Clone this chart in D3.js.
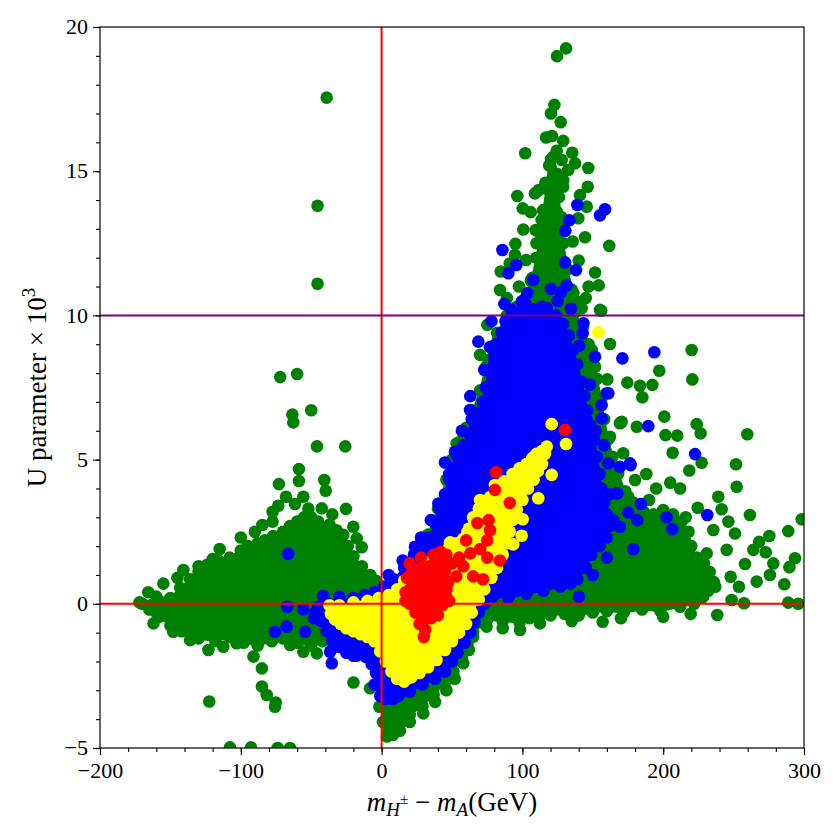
<!DOCTYPE html>
<html lang="en">
<head>
<meta charset="UTF-8">
<title>U parameter scatter</title>
<style>
  body { margin: 0; background: #fff; }
  text { font-family: "Liberation Serif", "DejaVu Serif", serif; }
</style>
</head>
<body>
<div id="chart"></div>
<script src="https://d3js.org/d3.v7.min.js"></script>
<script>
// axis ticks
const xTicks = [-200, -100, 0, 100, 200, 300];
const yTicks = [-5, 0, 5, 10, 15, 20];

// outlines of the densely packed parts of each sample [x, y];
// every vertex is drawn as a point too, so the edges stay bumpy
const greenWingCore = [[-170,0],[-160,0.25],[-150,0.2],[-143,0.55],[-136,0.85],[-130,1.1],[-124,1.35],[-116,1.5],[-108,1.6],[-100,1.85],[-95,2.0],[-88,2.1],[-83,2.2],[-77,2.35],[-70,2.5],[-65,2.7],[-60,2.85],[-55,3.0],[-50,3.0],[-45,2.85],[-37,2.75],[-32,2.55],[-28,2.35],[-24,2.0],[-20,1.65],[-14,1.3],[-8,1.0],[-4,0.8],[-1,0.6],[-2,-0.8],[-20,-1.0],[-35,-1.3],[-42,-1.3],[-50,-1.45],[-60,-1.35],[-70,-1.2],[-78,-1.3],[-88,-1.45],[-98,-1.35],[-108,-1.15],[-118,-1.3],[-130,-1.2],[-142,-0.95],[-150,-0.75],[-158,-0.45],[-165,-0.2]];
const greenMainCore = [[1,-4.1],[6,-4.25],[13,-4.15],[20,-3.85],[29,-3.55],[37,-3.15],[45,-2.75],[51,-2.35],[57,-1.85],[61,-1.4],[65,-0.95],[70,-0.65],[75,-0.55],[86,-0.6],[98,-0.65],[105,-0.5],[112,-0.45],[120,-0.4],[130,-0.35],[140,-0.4],[150,-0.3],[160,-0.25],[172,-0.3],[185,-0.2],[198,-0.25],[212,-0.1],[222,0.0],[227,0.2],[232,0.45],[236,0.75],[233,1.1],[229,1.4],[224,1.6],[220,2.0],[218,2.5],[213,2.85],[207,3.1],[200,3.25],[193,3.1],[186,3.2],[179,3.5],[173,3.9],[168,4.5],[164,5.1],[161,5.7],[158,6.4],[156,7.1],[153,7.8],[150,8.4],[147,9.0],[143,9.6],[137,10.1],[131,10.7],[127,11.5],[124,12.3],[120,12.6],[116,12.0],[111,11.2],[104,10.7],[96,10.3],[89,10.0],[82,9.4],[77,8.9],[74,8.2],[70,7.4],[65,6.7],[60,6.1],[55,5.6],[50,5.0],[46,4.3],[40,3.3],[33,2.4],[22,1.5],[10,0.7],[2,-1.0],[0,-3.0]];
const greenColumnCore = [[102,10.6],[107,11.3],[110,12.0],[113,12.8],[115,13.6],[117,14.4],[119,15.2],[122,15.5],[125,14.9],[126,14.1],[127,13.3],[129,12.5],[132,11.6],[135,10.9],[138,10.5]];
const blueCore = [[3,-3.3],[8,-3.3],[12,-3.2],[20,-3.05],[29,-2.8],[38,-2.6],[45,-2.35],[50,-2.0],[54,-1.7],[59,-1.35],[63,-1.0],[66,-0.65],[69,-0.3],[73,0.0],[79,0.25],[90,0.2],[103,0.35],[115,0.45],[127,0.6],[134,0.7],[139,0.85],[145,1.25],[149,1.7],[155,2.0],[160,2.3],[162,2.7],[160,3.1],[158,3.5],[156,4.0],[155,4.5],[153,5.1],[151,5.7],[148,6.2],[146,6.7],[144,7.2],[142,7.7],[139,8.3],[136,8.8],[133,9.3],[129,9.7],[124,10.0],[119,9.9],[114,10.3],[108,10.2],[102,10.4],[97,10.1],[92,10.2],[88,9.8],[85,9.4],[81,9.0],[77,8.9],[76,8.1],[74,7.5],[72,7.0],[68,6.6],[64,6.4],[62,5.9],[58,5.5],[54,5.1],[50,4.7],[48,4.3],[45,3.8],[41,3.3],[38,2.8],[34,2.3],[29,2.0],[23,1.7],[16,1.25],[9,0.85],[2,0.6],[-5,0.4],[-12,0.3],[-20,0.2],[-30,0.1],[-38,0.0],[-45,-0.1],[-47,-0.3],[-43,-0.6],[-39,-0.95],[-35,-1.3],[-30,-1.5],[-25,-1.7],[-18,-1.8],[-11,-1.85],[-7,-2.1],[-4,-2.4],[-2,-2.8],[0,-3.2]];
const yellowCore = [[-37,-0.05],[-30,-0.05],[-20,0.05],[-10,0.1],[-2,0.2],[5,0.3],[11,0.5],[16,0.8],[22,1.05],[30,1.3],[36,1.5],[43,1.75],[48,1.95],[53,2.1],[58,2.25],[62,2.6],[65,3.0],[69,3.3],[73,3.45],[77,3.7],[82,3.95],[87,4.25],[93,4.5],[98,4.7],[103,4.85],[107,5.05],[110,5.2],[114,5.3],[116,5.2],[114,4.85],[111,4.6],[108,4.3],[104,4.0],[100,3.6],[96,3.25],[93,2.9],[91,2.5],[89,2.1],[86,1.7],[82,1.25],[78,0.9],[73,0.5],[69,0.15],[64,-0.3],[60,-0.7],[55,-1.0],[50,-1.3],[45,-1.6],[39,-1.95],[33,-2.2],[27,-2.4],[21,-2.55],[16,-2.7],[11,-2.6],[7,-2.35],[3,-2.0],[-1,-1.65],[-5,-1.3],[-10,-1.15],[-15,-1.05],[-20,-0.95],[-25,-0.85],[-29,-0.7],[-33,-0.55],[-36,-0.35]];
const redCore = [[17,0.4],[20,0.9],[24,1.15],[30,1.2],[36,1.3],[42,1.4],[45,1.15],[47,0.7],[46,0.25],[43,-0.05],[38,-0.25],[33,-0.45],[29,-0.6],[25,-0.3],[20,0.0]];

// scattered points [x, y]
const greenPts = [
  [-39,17.55],[-45.5,13.8],[-45.5,11.1],[-72,7.86],[-60,7.97],[-50,6.71],[-63.4,6.56],[-62.7,6.29],
  [-45.9,5.46],[-25.8,5.46],[-58.7,4.67],[-72.9,4.15],[-58.7,4.26],[-40.7,4.29],[-39.7,3.92],[-67.9,3.71],
  [-55.6,3.71],[-61.5,3.46],[-73.4,3.4],[-77.4,3.19],[-25.3,3.29],[-42.5,3.31],[-84.7,2.73],[-77.4,2.85],
  [-20.1,2.67],[-27.2,2.39],[-17.7,2.27],[-14.1,1.96],[-140.8,1.17],[-165.7,0.4],[-155,0.7],[-130,1.3],
  [-115,1.9],[-100,2.3],[-90,2.5],[-145,0.9],[-120,1.55],[-172,0.05],[-160,-0.3],[-52,3.3],[-35,3.1],
  [-162,-0.68],[-148,-0.97],[-136,-1.26],[-123,-1.6],[-112.4,-1.49],[-91,-1.83],[-85,-2.24],[-85,-2.87],
  [-81.6,-3.16],[-75.7,-3.57],[-75.2,-3.42],[-122.4,-3.39],[-107.7,-4.98],[-92.8,-4.98],[-73.8,-5.0],
  [-65,-5.0],[-20,-2.73],[-8.2,-2.93],[-1.6,-3.57],[-55.6,-1.66],[-65,-1.43],[-46,-1.72],[-103,-1.37],
  [220.2,8.8],[220.7,7.78],[197.2,8.08],[174.5,7.67],[183.5,7.56],[192.3,7.59],[185.2,7.16],[162.2,9.01],
  [160.3,7.78],[200.8,6.49],[223.8,6.23],[226.6,5.91],[259.7,5.88],[210,5.83],[201.6,5.85],[181.2,6.14],
  [170.5,6.31],[227.3,4.89],[251.7,4.84],[218.5,4.62],[206.7,5.24],[252.2,4.06],[239.1,3.71],[224.5,3.33],
  [261.6,3.08],[298.4,2.93],[288.8,2.52],[275.4,2.35],[268.2,2.15],[264,1.87],[272.8,1.79],[278.2,1.4],
  [293.6,1.58],[289.6,1.27],[258.1,1.38],[275.8,1.0],[286,0.68],[266.4,0.77],[253.8,0.59],[247.9,0.94],
  [248.6,0.13],[257.4,0.02],[288.8,0.04],[295.9,0.0],[238.4,-0.39],[219.5,-0.35],[157,-0.62],[235.6,2.56],
  [241.5,3.28],[246.3,2.85],[251,2.44],[245.1,1.87],[230.9,1.75],[232,1.11],[223.8,0.59],[228.5,0.25],
  [237,0.59],[155.1,10.19],[149.2,8.8],[151.6,8.22],[169.3,6.26],[162.2,5.79],[155.1,5.45],[171.6,5.22],
  [180,4.29],[175.2,3.71],[164.6,4.06],[188,4.5],[195,4.0],[205,4.2],[212,4.0],[216,3.0],[200,2.8],[190,3.6],
  [131,19.26],[124.6,18.99],[122.7,17.3],[120.3,17.0],[127.2,16.7],[116.8,16.17],[121,16.22],[129,16.05],
  [102,15.62],[124.4,15.71],[135.4,15.64],[120.3,15.42],[127.9,15.39],[137.4,15.27],[146.8,15.11],[132.6,15.04],
  [129,14.69],[116.3,14.6],[121.7,14.6],[146.4,14.46],[96.4,14.14],[108.9,14.23],[111.6,14.35],[129,14.46],
  [140.9,14.17],[145.7,13.77],[100.2,13.71],[105.9,13.58],[114.8,13.65],[119.6,13.89],[124.4,13.6],[139.7,13.37],
  [100.6,12.98],[109.4,12.96],[113.7,13.31],[122,12.85],[135.7,12.56],[144.5,12.71],[161.7,12.41],[95,12.48],
  [116.8,12.5],[124.4,12.27],[102.6,11.92],[112.5,11.86],[94.7,12.1],[151.6,11.49],[154.2,11.04],[84.6,11.52],
  [84.1,10.88],[97.6,11.0],[123,11.34],[136.2,10.77],[142.1,10.25],[156,10.16],[75.1,9.67],[118,12.0],
  [126,12.5],[128,13.4],[106,11.2],[130,11.2],[110,12.5],[117,13.2],[89,10.6],[91,11.8],[140,11.9],
  [147,11.0],[145,10.6],[82.9,9.2],[69.9,8.63],[75.8,8.45],[77,7.65],[53.3,5.56],[60.4,5.68],[65,6.5],
  [4.8,-4.4],[13,-4.4],[3.8,-4.6],[8,-4.55],[20,-4.1],[29.6,-3.8],[38,-3.4],[46,-3.0],[52,-2.6],[58,-2.06],
  [62,-1.6],[65,-1.14],[74.6,-0.79],[86,-0.85],[98.3,-0.91],[112.5,-0.68],[135,-0.6],[170,-0.5],[200,-0.45]
];
const bluePts = [
  [85.8,12.27],[95.7,11.75],[90,11.46],[107.7,11.23],[103.5,10.77],[99.5,10.48],[87.2,10.4],[130.3,11.84],
  [138.1,11.57],[120.3,10.92],[131.5,11.04],[127.2,10.8],[134.5,10.23],[139,13.83],[133.3,13.3],[130.5,12.93],
  [158.7,13.68],[155.1,13.47],[117.3,10.25],[68.7,9.09],[72.9,8.11],[62.8,6.72],[52.1,5.27],[45,4.9],
  [40.3,3.48],[23.7,1.98],[171,8.51],[151.6,8.57],[140.4,8.95],[142.8,9.38],[143.3,9.73],[159.9,7.3],
  [156.3,6.89],[156.3,6.43],[145.7,6.37],[161,4.87],[169.3,4.75],[176.4,4.87],[152.8,3.83],[167,3.83],
  [164.6,2.9],[169.3,2.67],[193.7,8.72],[189.4,6.16],[222.6,5.19],[231.3,3.08],[202.5,3.0],[206.5,2.59],
  [184.2,3.46],[175.2,3.16],[181.6,2.9],[178.8,1.89],[140.2,0.25],[167.4,3.83],[176.9,4.81],[161,7.3],
  [-66.3,1.73],[-41.4,0.27],[-67,-0.1],[-55.6,-0.19],[-75.7,-0.97],[-67.4,-0.79],[-54.4,-0.97],[-35.4,-2.06],
  [-36.6,-1.66],[78,9.8],[93,10.1],[112,10.2],[125,10.5],[63,7.2],[57,6.0],[48,4.5],[35,2.9],[28,2.3],
  [15,1.5],[5,1.0],[148,7.6],[152,6.0],[158,5.5],[162,3.8],[160,1.6],[150,1.0],[-30,0.25],[-48,-0.5],
  [-20,-1.8],[-5,-2.8],[-1,-3.2]
];
const yellowPts = [
  [120.8,6.23],[131,5.54],[120.8,4.47],[111.3,3.66],[153.9,9.41],[69.9,3.6],[65.8,2.88],[100.2,2.93],
  [99.5,2.36],[93.5,2.06],[60.9,2.48],[48.6,2.13],[37.9,1.69],[80.5,4.12],[117.3,5.45]
];
const redPts = [
  [18,0.9],[22,1.1],[26,1.2],[30,1.1],[34,1.3],[38,1.2],[42,1.4],[20,0.5],[24,0.6],[28,0.7],[32,0.6],
  [36,0.8],[40,0.7],[44,0.9],[17,0.1],[22,0.2],[26,0.1],[30,0.3],[34,0.2],[38,0.4],[46,0.5],[24,-0.3],
  [28,-0.4],[32,-0.2],[36,-0.1],[40,-0.4],[27,-0.7],[31,-0.9],[30,-1.15],[35,-0.5],[46,1.7],[50,1.4],
  [53,0.95],[58,1.3],[60,2.2],[63,1.75],[65,0.95],[70,1.9],[72,0.85],[75,1.6],[75,2.2],[77,2.55],
  [76,2.9],[84,1.5],[91,3.5],[80.5,3.95],[81.3,4.56],[130.3,6.03],[42,1.8],[48,0.1],[55,1.6],[68,2.8],
  [28,1.6],[37,1.7],[44,0.2],[20,1.4],[25,-0.1]
];

const W = 840, H = 840;
const margin = { top: 27, right: 36, bottom: 92, left: 100 };

const svg = d3.select("#chart").append("svg")
  .attr("width", W).attr("height", H);

const x = d3.scaleLinear().domain([-200, 300]).range([margin.left, W - margin.right]);
const y = d3.scaleLinear().domain([-5, 20]).range([H - margin.bottom, margin.top]);

svg.append("clipPath").attr("id", "plot-clip")
  .append("rect")
  .attr("x", margin.left).attr("y", margin.top)
  .attr("width", W - margin.left - margin.right)
  .attr("height", H - margin.top - margin.bottom);

const plot = svg.append("g").attr("clip-path", "url(#plot-clip)");
const outline = d3.line().x(d => x(d[0])).y(d => y(d[1])).curve(d3.curveLinearClosed);
const R = 6.3;

function layer(cores, pts, color) {
  const g = plot.append("g");
  g.selectAll("path").data(cores).join("path")
    .attr("d", outline)
    .attr("fill", color).attr("stroke", color)
    .attr("stroke-width", 2).attr("stroke-linejoin", "round");
  g.selectAll("circle").data(cores.flat().concat(pts)).join("circle")
    .attr("cx", d => x(d[0])).attr("cy", d => y(d[1]))
    .attr("r", R).attr("fill", color);
}

layer([greenWingCore, greenMainCore, greenColumnCore], greenPts, "#008000");
layer([blueCore], bluePts, "#0000ff");
layer([yellowCore], yellowPts, "#ffff00");
layer([redCore], redPts, "#ff0000");

// reference lines
plot.append("line").attr("x1", x(0)).attr("x2", x(0))
  .attr("y1", margin.top).attr("y2", H - margin.bottom)
  .attr("stroke", "#ff0000").attr("stroke-width", 2);
plot.append("line").attr("x1", margin.left).attr("x2", W - margin.right)
  .attr("y1", y(0)).attr("y2", y(0))
  .attr("stroke", "#ff0000").attr("stroke-width", 2);
plot.append("line").attr("x1", margin.left).attr("x2", W - margin.right)
  .attr("y1", y(10)).attr("y2", y(10))
  .attr("stroke", "#800080").attr("stroke-width", 2);

// frame
svg.append("rect")
  .attr("x", margin.left).attr("y", margin.top)
  .attr("width", W - margin.left - margin.right)
  .attr("height", H - margin.top - margin.bottom)
  .attr("fill", "none").attr("stroke", "#000").attr("stroke-width", 1.2);

const fmt = d => (d < 0 ? "\u2212" + Math.abs(d) : String(d));

// minor ticks
const xAxisMinor = d3.axisBottom(x).tickValues(d3.range(-200, 301, 20)).tickSize(4).tickFormat("");
const yAxisMinor = d3.axisLeft(y).tickValues(d3.range(-5, 21, 1)).tickSize(4).tickFormat("");
svg.append("g").attr("transform", `translate(0,${H - margin.bottom})`).call(xAxisMinor)
  .call(g => g.select(".domain").remove());
svg.append("g").attr("transform", `translate(${margin.left},0)`).call(yAxisMinor)
  .call(g => g.select(".domain").remove());

// major ticks
const xAxis = d3.axisBottom(x).tickValues(xTicks).tickSize(7).tickPadding(7).tickFormat(fmt);
const yAxis = d3.axisLeft(y).tickValues(yTicks).tickSize(7).tickPadding(5).tickFormat(fmt);
svg.append("g").attr("transform", `translate(0,${H - margin.bottom})`).call(xAxis)
  .call(g => g.select(".domain").remove())
  .call(g => g.selectAll("text").attr("font-size", 22).attr("fill", "#000")
    .style("font-family", "'Liberation Serif', serif"));
svg.append("g").attr("transform", `translate(${margin.left},0)`).call(yAxis)
  .call(g => g.select(".domain").remove())
  .call(g => g.selectAll("text").attr("font-size", 22).attr("fill", "#000")
    .attr("dy", "0.3em")
    .style("font-family", "'Liberation Serif', serif"));
svg.selectAll(".tick line").attr("stroke", "#000").attr("stroke-width", 1.1);

// x label
const xl = svg.append("text")
  .attr("x", (margin.left + W - margin.right) / 2).attr("y", 811)
  .attr("text-anchor", "middle").attr("font-size", 27);
xl.append("tspan").attr("font-style", "italic").text("m");
xl.append("tspan").attr("font-style", "italic").attr("font-size", 19).attr("dy", 5).text("H");
xl.append("tspan").attr("font-size", 15).attr("dy", -12).text("\u00b1");
xl.append("tspan").attr("dy", 7).text(" \u2212 ");
xl.append("tspan").attr("font-style", "italic").text("m");
xl.append("tspan").attr("font-style", "italic").attr("font-size", 19).attr("dy", 5).text("A");
xl.append("tspan").attr("dy", -5).text("(GeV)");

// y label
const yl = svg.append("text")
  .attr("transform", `translate(46,${(margin.top + H - margin.bottom) / 2}) rotate(-90)`)
  .attr("text-anchor", "middle").attr("font-size", 27);
yl.append("tspan").text("U parameter \u00d7 10");
yl.append("tspan").attr("font-size", 19).attr("dy", -11).text("3");
</script>
</body>
</html>
